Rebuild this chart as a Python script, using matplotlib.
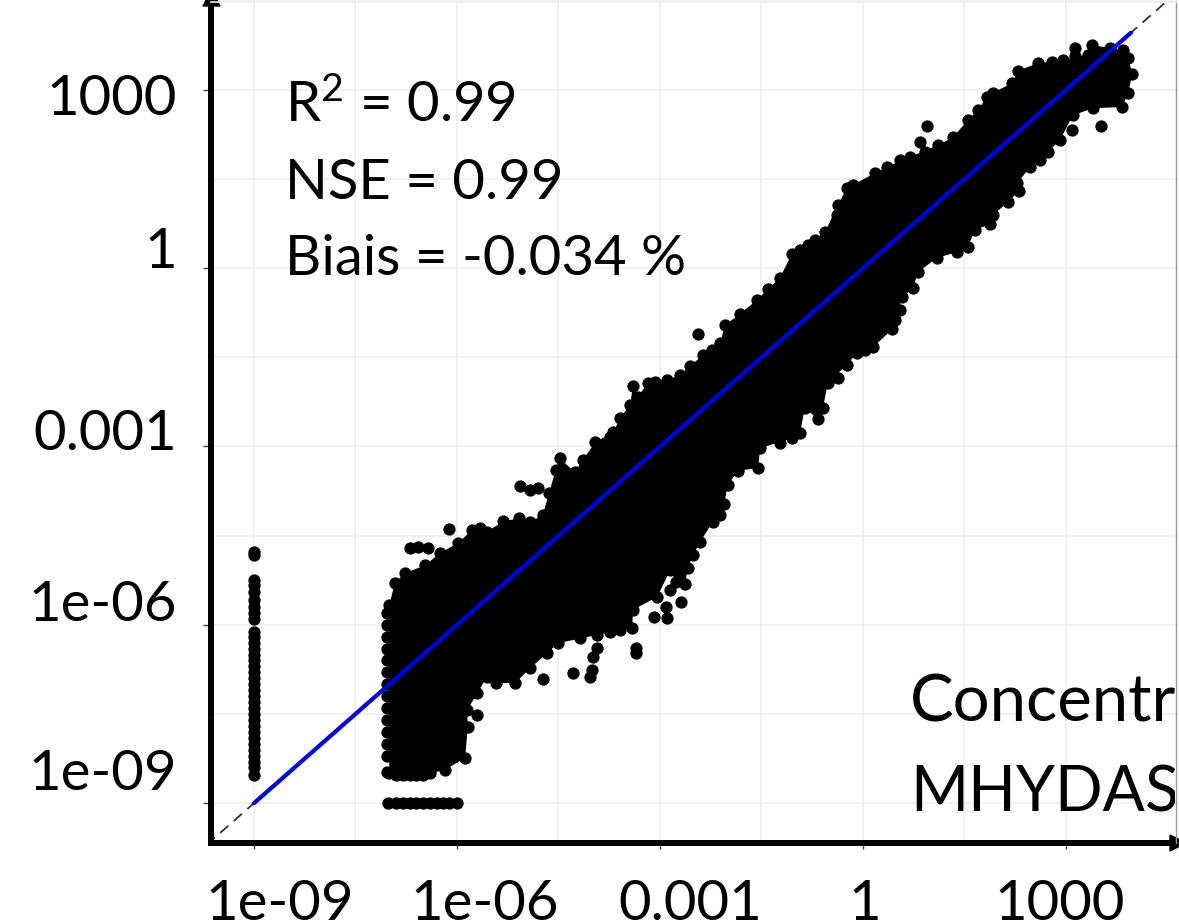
import numpy as np
import matplotlib
matplotlib.use("Agg")
import matplotlib.pyplot as plt
from matplotlib.patches import Polygon, Rectangle

upper_x = [-7.00,-7.00,-6.92,-6.77,-6.47,-6.25,-5.99,-5.78,-5.56,-5.32,-5.08,-4.92,-4.73,-4.64,-4.54,-4.48,-4.26,-4.14,-3.96,-3.69,-3.59,-3.44,-3.40,-3.33,-3.18,-2.90,-2.70,-2.56,-2.36,-2.11,-2.04,-1.82,-1.57,-1.40,-1.23,-1.05,-0.81,-0.56,-0.37,-0.24,-0.15,0.18,0.35,0.69,1.11,1.33,1.55,1.70,1.83,1.92,2.20,2.29,2.59,2.79,2.96,3.46,3.38,3.84,3.92,3.98,3.92,3.83,3.40,3.10]
upper_y = [-8.50,-5.67,-5.30,-5.13,-5.00,-4.79,-4.63,-4.41,-4.44,-4.26,-4.21,-4.27,-4.15,-3.78,-3.40,-3.20,-3.43,-3.23,-2.93,-2.76,-2.52,-2.30,-1.98,-2.17,-1.93,-1.88,-1.80,-1.65,-1.46,-1.26,-0.96,-0.77,-0.54,-0.35,-0.17,0.24,0.39,0.61,1.06,1.35,1.40,1.60,1.70,1.87,2.07,2.20,2.49,2.66,2.88,2.95,3.11,3.32,3.45,3.47,3.50,3.63,3.75,3.67,3.53,3.26,2.95,2.71,2.69,2.57]
lower_x = [2.91,2.73,2.47,2.28,2.31,2.14,1.92,1.88,1.65,1.55,1.39,1.09,0.81,0.74,0.58,0.43,0.15,-0.09,-0.24,-0.52,-0.59,-0.67,-0.86,-0.93,-1.05,-1.52,-1.55,-1.85,-2.00,-2.05,-2.11,-2.22,-2.41,-2.51,-2.59,-2.63,-2.76,-2.85,-3.04,-3.40,-3.41,-3.59,-3.93,-4.51,-4.67,-4.92,-5.14,-5.42,-5.56,-5.70,-5.85,-5.84,-5.88,-6.18,-6.40]
lower_y = [2.15,1.95,1.70,1.43,1.30,1.11,0.89,0.74,0.64,0.35,0.27,0.17,-0.07,-0.34,-0.49,-1.03,-1.33,-1.43,-1.63,-1.93,-2.35,-2.54,-2.35,-2.78,-2.86,-3.03,-3.36,-3.41,-3.65,-3.97,-4.15,-4.27,-4.61,-4.83,-5.05,-5.32,-5.28,-5.08,-5.53,-5.75,-6.06,-6.09,-6.17,-6.31,-6.48,-6.73,-6.98,-6.98,-6.88,-7.15,-7.44,-7.72,-8.24,-8.44,-8.50]
outlier_x = [-6.12,-4.80,-4.92,-5.07,-6.69,-6.58,-6.43,-2.44,-1.05,0.84,0.95,3.13,3.52,3.09,-2.69,-3.35,-3.35,-3.93,-3.99,-4.29,-4.00,-4.03,-3.09,-2.91,-2.90,-4.73,-5.70,0.28]
outlier_y = [-4.39,-3.70,-3.73,-3.67,-4.71,-4.69,-4.71,-1.11,-2.44,2.12,2.39,3.70,2.39,2.32,-5.62,-6.39,-6.48,-6.39,-6.54,-6.81,-6.76,-6.88,-5.87,-5.70,-5.89,-6.91,-7.52,-0.91]
edge_x = [3.13,3.32,3.65,0.55,0.92,-0.38,-0.93,-0.71,-2.23,-3.07,-3.74,-5.66,2.62,0.55,0.47,0.03,-0.37,-1.23,-1.74,-3.74,-4.18,-2.85,
          -7.03,-7.03,-7.03,-7.03,-7.03,-7.03,-7.03,-7.03,-7.03,-7.03,-7.03,-7.03,-7.03,-7.03,
          -6.9,-6.8,-6.7,-6.6,-6.5]
edge_y = [3.56,3.59,3.70,1.82,1.95,0.89,0.30,0.47,-1.38,-1.92,-2.84,-4.37,1.82,-0.71,-0.87,-1.38,-1.85,-2.94,-3.23,-6.12,-6.22,-5.42,
          -8.48,-8.2,-8.0,-7.8,-7.6,-7.4,-7.2,-7.0,-6.8,-6.6,-6.4,-6.2,-6.0,-5.8,
          -8.52,-8.52,-8.52,-8.52,-8.52]
column_x = -9.0
column_y = [-4.78,-4.83,-5.25,-5.33,-5.45,-5.58,-5.70,-5.80,-5.90,-6.12,-6.2,-6.3,-6.4,-6.5,-6.6,-6.7,-6.8,-6.9,-7.0,-7.1,-7.2,-7.3,-7.4,-7.5,-7.6,-7.7,-7.8,-7.9,-8.0,-8.1,-8.2,-8.3,-8.4,-8.53]
row_y = -9.0
row_x = [-7.02,-6.9,-6.8,-6.7,-6.6,-6.5,-6.4,-6.3,-6.2,-6.12,-6.0]
fit_ends = [-9.0, 3.96]
identity_ends = [-9.7, 4.7]
grid_levels = [-9.0,-7.5,-6.0,-4.5,-3.0,-1.5,0.0,1.5,3.0]
y_grid_levels = grid_levels + [4.5]
tick_levels = [-9.0,-6.0,-3.0,0.0,3.0]
tick_labels = ['1e-09','1e-06','0.001','1','1000']

W, H = 1179, 924
plt.rcParams['font.family'] = ['Lato', 'DejaVu Sans']
plt.rcParams['mathtext.default'] = 'regular'
fig = plt.figure(figsize=(W/100, H/100), dpi=100, facecolor='white')
ax = fig.add_axes([211/W, 1-843/H, (W-211)/W, 843/H])
ax.set_xscale('log'); ax.set_yscale('log')
ax.set_xlim(10**-9.635, 10**4.67)
ax.set_ylim(10**-9.67, 10**4.51)
ax.minorticks_off()
p = lambda v: 10.0**np.asarray(v, dtype=float)

for g in grid_levels:
    ax.axvline(10**g, color='#efefef', lw=1.2, zorder=1)
for g in y_grid_levels:
    ax.axhline(10**g, color='#efefef', lw=1.2, zorder=1)

ax.plot(p(identity_ends), p(identity_ends), color='#333333', lw=1.3,
        dashes=(6, 4), zorder=2)

poly_x = upper_x + lower_x
poly_y = upper_y + lower_y
ax.fill(p(poly_x), p(poly_y), color='black', lw=0, zorder=3)
dot = dict(s=78, color='black', linewidths=0, zorder=4)
ax.scatter(p(poly_x), p(poly_y), **dot)
ax.scatter(p(outlier_x), p(outlier_y), **dot)
ax.scatter(p(edge_x), p(edge_y), **dot)
ax.scatter(p([column_x]*len(column_y)), p(column_y), **dot)
ax.scatter(p(row_x), p([row_y]*len(row_x)), **dot)
ax.plot(p(fit_ends), p(fit_ends), color='#0000e6', lw=3.0, zorder=5,
        solid_capstyle='round')

for s in ('top', 'right'):
    ax.spines[s].set_visible(False)
for s in ('left', 'bottom'):
    ax.spines[s].set_linewidth(4.3)
    ax.spines[s].set_color('black')
    ax.spines[s].set_zorder(6)
ax.set_xticks(p(tick_levels), labels=[])
ax.set_yticks(p(tick_levels), labels=[])
ax.tick_params(axis='x', which='major', length=4.5, width=1.0, color='#444444')
ax.tick_params(axis='y', which='major', length=5.8, width=1.0, color='#444444')
ax.tick_params(which='minor', length=0)

fs = 40.5
x_off = [26, 28, 30, 2, -6]
for t, lab, dx in zip(tick_levels, tick_labels, x_off):
    ax.annotate(lab, xy=(10**t, 0), xycoords=('data', 'axes fraction'),
                xytext=(dx, -77), textcoords='offset pixels', ha='center',
                va='baseline', fontsize=fs, color='black', annotation_clip=False)
y_off = [13, 4, -4, 0, -25]
for t, lab, dy in zip(tick_levels, tick_labels, y_off):
    ax.annotate(lab, xy=(0, 10**t), xycoords=('axes fraction', 'data'),
                xytext=(-34, dy), textcoords='offset pixels', ha='right',
                va='baseline', fontsize=fs, color='black', annotation_clip=False)

def T(x, y, s, size, **kw):
    return fig.text(x/W, 1-y/H, s, fontsize=size, color='black', va='baseline', **kw)

T(285, 122, r'R$^{2}$ = 0.99', fs)
T(285, 199, 'NSE = 0.99', fs)
T(285, 275, 'Biais = -0.034 %', fs)
clip = Rectangle((0, 0), 1175/W, 1, transform=fig.transFigure)
for t in (T(910, 721, 'Concentr', 47), T(910, 811, 'MHYDAS', 45)):
    t.set_clip_path(clip)
    t.set_clip_on(True)

fig.add_artist(plt.Line2D([1175.5/W]*2, [1-843/H, 1-2/H], color='#999999', lw=1.0,
                          transform=fig.transFigure))
fig.add_artist(plt.Line2D([211/W, 1175.5/W], [1-2/H]*2, color='#efefef', lw=1.2,
                          transform=fig.transFigure))
fig.add_artist(Polygon([(203/W, 1-6/H), (220/W, 1-6/H), (211.5/W, 1+10/H)], closed=True,
                       color='black', transform=fig.transFigure, clip_on=False))
fig.add_artist(Polygon([(1170/W, 1-835/H), (1170/W, 1-851/H), (1186/W, 1-843/H)], closed=True,
                       color='black', transform=fig.transFigure, clip_on=False))

fig.savefig('out.png', dpi=100)
